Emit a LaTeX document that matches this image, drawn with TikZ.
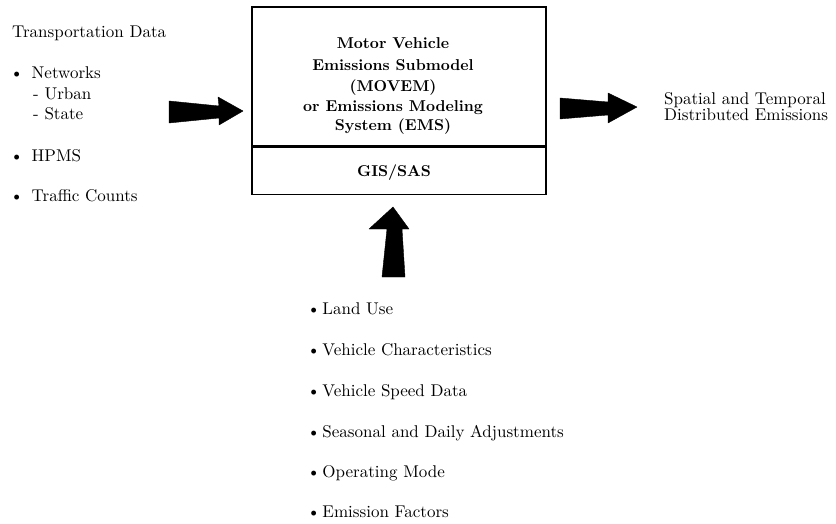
\documentclass[tikz,border=0pt]{standalone}
\usetikzlibrary{calc}
\newcommand{\sxtext}[1]{\scalebox{1.7}{\fontsize{10}{12}\selectfont #1}}
\newcommand{\sbtext}[1]{\scalebox{1.57}{\fontsize{10}{12}\selectfont\bfseries #1}}
\begin{document}
\begin{tikzpicture}[x=1pt,y=-1pt,
  txt/.style={inner sep=0pt, anchor=base west},
  boldtxt/.style={inner sep=0pt, anchor=base},
  boxpart/.style={draw, line width=1.6pt, inner sep=0pt},
  blockarrow/.style={fill=black, draw=black, line width=0.4pt, line join=round}]
\useasboundingbox (0,0) rectangle (836,524);
% central box
\node[boxpart, minimum width=294pt, minimum height=139pt] (movem) at (399,76.5) {};
\node[boxpart, minimum width=294pt, minimum height=47pt, anchor=north] (gis) at (movem.south) {};
\node[boldtxt] (t1) at (393,49) {\sbtext{Motor Vehicle}};
\node[boldtxt] (t2) at (393,71) {\sbtext{Emissions Submodel}};
\node[boldtxt] (t3) at (393,91.5) {\sbtext{(MOVEM)}};
\node[boldtxt] (t4) at (393,112) {\sbtext{or Emissions Modeling}};
\node[boldtxt] (t5) at (393,131) {\sbtext{System (EMS)}};
\node[boldtxt] (t6) at (394,177) {\sbtext{GIS/SAS}};
% left inputs
\node[txt] (trans) at (12,38) {\sxtext{Transportation Data}};
\node[txt] (netw) at (10,79) {\sxtext{\textbullet\hspace{4.9pt}Networks}};
\node[txt] (urban) at (33,100) {\sxtext{- Urban}};
\node[txt] (state) at (33,120) {\sxtext{- State}};
\node[txt] (hpms) at (10,162) {\sxtext{\textbullet\hspace{4.9pt}HPMS}};
\node[txt] (traffic) at (10,201) {\sxtext{\textbullet\hspace{4.9pt}Traffic Counts}};
% right output
\node[txt] (out1) at (664,105) {\sxtext{Spatial and Temporal}};
\node[txt] (out2) at (664,121) {\sxtext{Distributed Emissions}};
% bottom inputs
\node[txt] (b1) at (307,314) {\sxtext{\textbullet\hspace{1.2pt}Land Use}};
\node[txt] (b2) at (307,355) {\sxtext{\textbullet\hspace{1.2pt}Vehicle Characteristics}};
\node[txt] (b3) at (307,396) {\sxtext{\textbullet\hspace{1.2pt}Vehicle Speed Data}};
\node[txt] (b4) at (307,437) {\sxtext{\textbullet\hspace{1.2pt}Seasonal and Daily Adjustments}};
\node[txt] (b5) at (307,477) {\sxtext{\textbullet\hspace{1.2pt}Operating Mode}};
\node[txt] (b6) at (307,517) {\sxtext{\textbullet\hspace{1.2pt}Emission Factors}};
% block arrows
\coordinate (tipL) at (243,111);
\coordinate (tipR) at (637,107);
\coordinate (tipU) at (393,207);
\fill[blockarrow] (tipL) -- ++(-25,-14) -- ++(1,9) -- ++(-50,-5) -- ++(0,22) -- ++(50,-5) -- ++(0,7) -- cycle;
\fill[blockarrow] (tipR) -- ++(-29,-14) -- ++(0,9) -- ++(-48,-4) -- ++(0,21) -- ++(48,-4) -- ++(0,8) -- cycle;
\fill[blockarrow] (tipU) -- ++(16,22) -- ++(-7,0) -- ++(3,48) -- ++(-23,0) -- ++(5,-48) -- ++(-18,0) -- cycle;
\end{tikzpicture}
\end{document}
